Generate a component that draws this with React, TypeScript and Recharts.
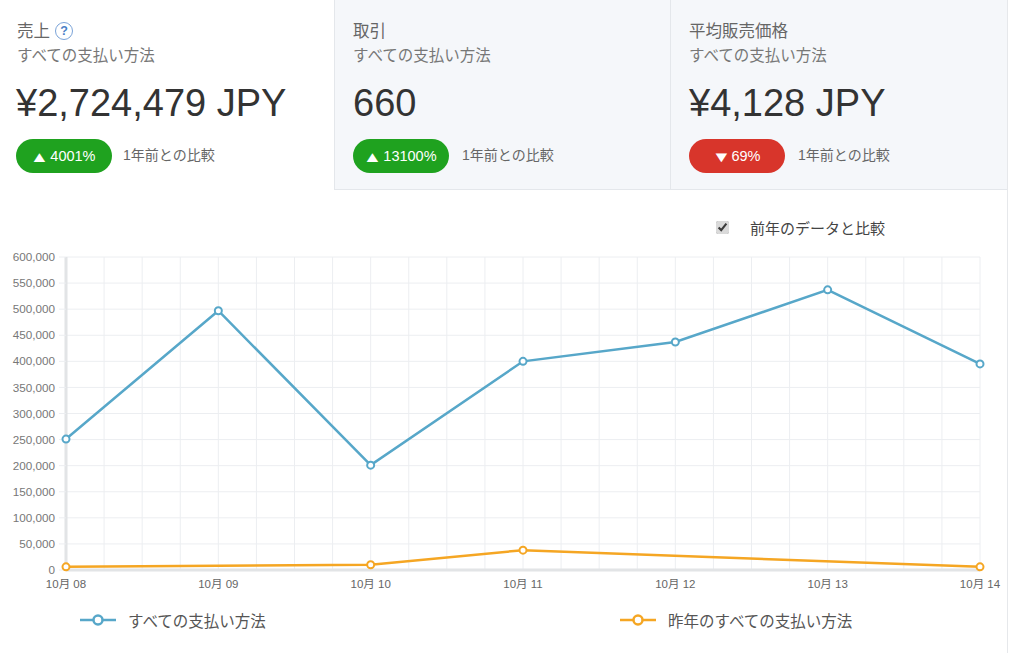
import React from 'react';
import { LineChart, Line, XAxis, YAxis, CartesianGrid } from 'recharts';

const categories = ['10月 08', '10月 09', '10月 10', '10月 11', '10月 12', '10月 13', '10月 14'];
const currentValues = [251000, 497000, 201000, 400000, 437000, 537000, 395000];
const lastYearValues: (number | null)[] = [6000, null, 10000, 38000, null, null, 6000];
const yTicks = [0, 50000, 100000, 150000, 200000, 250000, 300000, 350000, 400000, 450000, 500000, 550000, 600000];
const xTicks = [0, 0.25, 0.5, 0.75, 1, 1.25, 1.5, 1.75, 2, 2.25, 2.5, 2.75, 3, 3.25, 3.5, 3.75, 4, 4.25, 4.5, 4.75, 5, 5.25, 5.5, 5.75, 6];

const seriesNames = ['すべての支払い方法', '昨年のすべての支払い方法'];
const cards = [
  { title: '売上', sub: 'すべての支払い方法', value: '¥2,724,479 JPY', change: '4001%', up: true, help: true },
  { title: '取引', sub: 'すべての支払い方法', value: '660', change: '13100%', up: true, help: false },
  { title: '平均販売価格', sub: 'すべての支払い方法', value: '¥4,128 JPY', change: '69%', up: false, help: false },
];

const data = categories.map((c, i) => ({ idx: i, label: c, current: currentValues[i], lastYear: lastYearValues[i] }));

const FONT = '"Liberation Sans", Arial, "Noto Sans CJK JP", sans-serif';
const BLUE = '#57a7c9';
const ORANGE = '#f5a623';

const fmt = (v: number) => v.toLocaleString('en-US');

function Card({ c, left, width, bg }: { c: typeof cards[0]; left: number; width: number; bg: string }) {
  const pad = left > 0 ? 18 : 17;
  return (
    <div style={{ position: 'absolute', left, top: 0, width, height: 190, background: bg, borderLeft: left > 0 ? '1px solid #e4e7eb' : 'none', borderBottom: left > 0 ? '1px solid #e4e7eb' : 'none', boxSizing: 'border-box' }}>
      <div style={{ position: 'absolute', left: pad, top: 20, fontSize: 16.5, color: '#666', display: 'flex', alignItems: 'center', lineHeight: '22px' }}>
        {c.title}
        {c.help && (
          <span style={{ display: 'inline-block', marginLeft: 5, width: 16, height: 16, borderRadius: 10, border: '1.5px solid #7aa3d8', color: '#4a7fc7', fontSize: 12.5, lineHeight: '16px', textAlign: 'center', fontWeight: 'bold' }}>?</span>
        )}
      </div>
      <div style={{ position: 'absolute', left: pad, top: 45, fontSize: 15.5, color: '#777', lineHeight: '22px' }}>{c.sub}</div>
      <div style={{ position: 'absolute', left: left > 0 ? 18 : 16, top: 80, fontSize: 38, color: '#333', lineHeight: '46px' }}>{c.value}</div>
      <div style={{ position: 'absolute', left: left > 0 ? 18 : 16, top: 139, width: 96, height: 34, borderRadius: 17, background: c.up ? '#1fa21f' : '#d8352b', color: '#fff', fontSize: 14.5, display: 'flex', alignItems: 'center', justifyContent: 'center' }}>
        <span style={{ fontSize: 15, marginRight: 3, transform: 'scaleX(1.3)', display: 'inline-block' }}>{c.up ? '▲' : '▼'}</span>{c.change}
      </div>
      <div style={{ position: 'absolute', left: left > 0 ? 127 : 123, top: 145, fontSize: 14, color: '#666', lineHeight: '20px' }}>1年前との比較</div>
    </div>
  );
}

export default function App() {
  return (
    <div style={{ position: 'absolute', left: 0, top: 0, width: 1024, height: 653, background: '#fff', fontFamily: FONT, overflow: 'hidden' }}>
      <Card c={cards[0]} left={0} width={334} bg="#fff" />
      <Card c={cards[1]} left={334} width={336} bg="#f5f7fa" />
      <Card c={cards[2]} left={670} width={337} bg="#f5f7fa" />
      <div style={{ position: 'absolute', left: 1007, top: 0, width: 1, height: 653, background: '#e6e8eb' }} />

      <div style={{ position: 'absolute', left: 716, top: 216, display: 'flex', alignItems: 'center', height: 22 }}>
        <input type="checkbox" checked readOnly style={{ margin: 0, width: 13, height: 13, accentColor: '#dadada' }} />
        <span style={{ marginLeft: 21, fontSize: 15, color: '#444' }}>前年のデータと比較</span>
      </div>

      <div style={{ position: 'absolute', left: 0, top: 240 }}>
        <LineChart width={1007} height={413} data={data} margin={{ top: 17, right: 27, left: 0, bottom: 53 }}>
          <CartesianGrid stroke="#eceef1" strokeWidth={1} />
          <XAxis
            dataKey="idx"
            type="number"
            domain={[0, 6]}
            ticks={xTicks}
            interval={0}
            tickFormatter={(v: number) => (Number.isInteger(v) ? categories[v] : '')}
            axisLine={{ stroke: '#e2e4e6', strokeWidth: 3 }}
            tickLine={false}
            tickMargin={4}
            tick={{ fontSize: 11.5, fill: '#666', fontFamily: FONT }}
            height={30}
          />
          <YAxis
            type="number"
            domain={[0, 600000]}
            ticks={yTicks}
            interval={0}
            width={66}
            tickFormatter={fmt}
            axisLine={{ stroke: '#e2e4e6', strokeWidth: 3 }}
            tickLine={{ stroke: '#eceef1' }}
            tickSize={7}
            tickMargin={4}
            tick={{ fontSize: 11.7, fill: '#777', fontFamily: FONT }}
          />
          <Line type="linear" dataKey="lastYear" stroke={ORANGE} strokeWidth={2.5} connectNulls isAnimationActive={false}
            dot={{ r: 3.5, fill: '#fff', stroke: ORANGE, strokeWidth: 2 }} activeDot={false} />
          <Line type="linear" dataKey="current" stroke={BLUE} strokeWidth={2.5} isAnimationActive={false}
            dot={{ r: 3.5, fill: '#fff', stroke: BLUE, strokeWidth: 2 }} activeDot={false} />
        </LineChart>
      </div>

      {[{ x: 80, color: BLUE, name: seriesNames[0] }, { x: 620, color: ORANGE, name: seriesNames[1] }].map((l) => (
        <div key={l.name} style={{ position: 'absolute', left: l.x, top: 609, display: 'flex', alignItems: 'center', height: 22 }}>
          <svg width={36} height={14}>
            <line x1={0} y1={7} x2={36} y2={7} stroke={l.color} strokeWidth={2.5} />
            <circle cx={18} cy={7} r={4.5} fill="#fff" stroke={l.color} strokeWidth={2.5} />
          </svg>
          <span style={{ marginLeft: 12, fontSize: 15.5, color: '#555' }}>{l.name}</span>
        </div>
      ))}
    </div>
  );
}
